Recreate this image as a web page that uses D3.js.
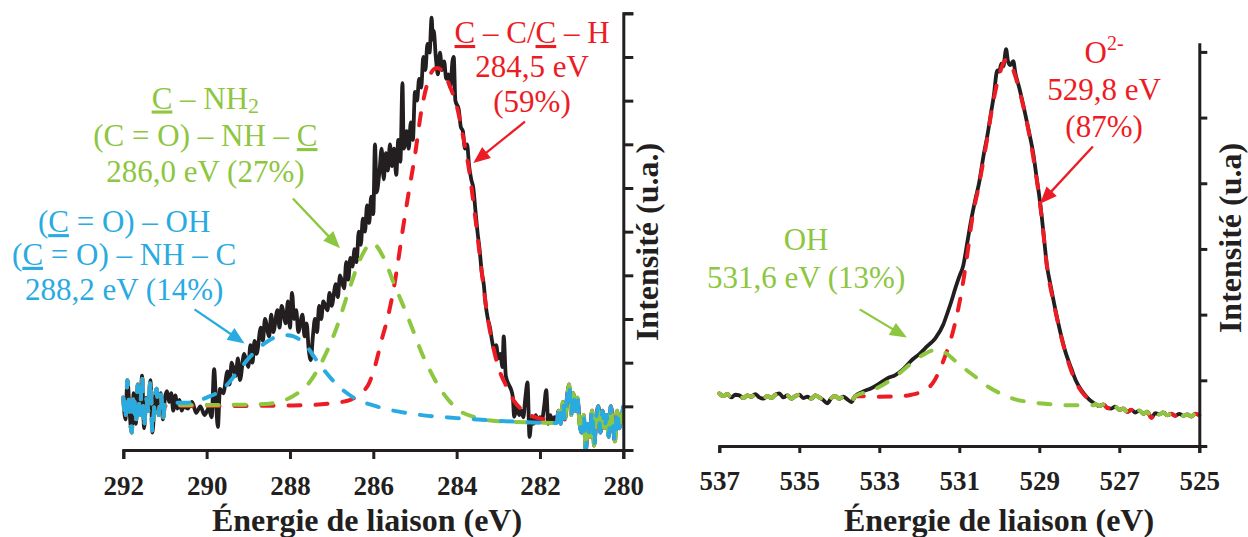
<!DOCTYPE html>
<html><head><meta charset="utf-8">
<script src="https://cdn.jsdelivr.net/npm/d3@7"></script>
<style>body{margin:0;background:#fff}svg{display:block}</style>
</head><body>
<svg id="chart" width="1248" height="537"></svg>
<script>
// ---------------- C1s (left panel) ----------------
const c1sTicks = [292, 290, 288, 286, 284, 282, 280];
const c1sYTicks = [0,1,2,3,4,5,6,7,8,9,10];
const c1sEnergy = [
292.00,291.95,291.90,291.85,291.80,291.75,291.70,291.65,291.60,291.55,291.50,291.45,291.40,291.35,291.30,291.25,291.20,291.15,291.10,291.05,291.00,
290.95,290.90,290.85,290.80,290.75,290.70,290.65,290.60,290.55,290.45,290.35,290.25,290.15,290.05,289.95,289.88,289.82,289.77,289.73,289.68,289.60,
289.50,289.45,289.40,289.30,289.25,289.20,289.10,289.00,288.95,288.90,288.85,288.80,288.70,288.65,288.60,288.50,288.45,288.40,288.30,288.25,288.20,
288.10,288.05,288.00,287.95,287.90,287.85,287.80,287.70,287.65,287.60,287.55,287.50,287.45,287.40,287.35,287.30,287.25,287.20,287.10,287.05,287.00,
286.90,286.85,286.80,286.70,286.65,286.60,286.55,286.50,286.45,286.40,286.35,286.30,286.25,286.20,286.15,286.10,286.05,286.00,285.96,285.92,285.85,
285.80,285.75,285.70,285.65,285.60,285.55,285.50,285.45,285.40,285.35,285.30,285.27,285.20,285.15,285.10,285.05,285.00,284.95,284.90,284.85,284.80,
284.75,284.70,284.65,284.60,284.57,284.55,284.50,284.45,284.40,284.35,284.30,284.25,284.20,284.15,284.10,284.07,284.03,283.95,283.90,283.85,283.80,
283.75,283.70,283.65,283.60,283.55,283.50,283.45,283.40,283.35,283.30,283.25,283.20,283.15,283.10,283.05,283.00,282.95,282.90,282.87,282.82,282.75,
282.70,282.65,282.62,282.55,282.50,282.45,282.40,282.35,282.30,282.25,282.20,282.15,282.10,282.05,282.00,281.95,281.90,281.85,281.80,281.75,281.70,
281.65,281.60,281.55,281.50,281.45,281.40,281.35,281.30,281.25,281.20,281.15,281.10,281.05,281.00,280.95,280.90,280.85,280.80,280.75,280.70,280.65,
280.60,280.55,280.50,280.45,280.40,280.35,280.30,280.25,280.20,280.15,280.10,280.05,280.00];
const c1sIntensity = [
1.20,0.70,1.60,0.90,0.40,1.30,0.60,1.50,0.80,1.70,0.50,1.20,0.90,1.60,0.40,1.10,1.40,0.80,1.30,0.70,1.20,
1.35,1.10,1.30,0.90,1.25,0.95,1.15,0.90,1.00,0.95,1.10,0.85,1.00,0.80,0.95,0.75,1.85,1.00,0.53,1.40,1.30,
1.80,1.50,2.00,1.70,2.10,1.60,2.20,1.90,2.40,2.00,2.50,2.20,2.80,2.50,3.00,2.60,3.10,2.70,3.20,2.80,3.30,
2.90,3.40,2.80,3.60,3.00,3.20,2.70,3.10,2.60,2.90,2.30,2.06,2.60,3.00,2.70,3.30,3.00,3.40,3.20,3.60,3.30,
3.80,3.50,4.00,3.70,4.30,3.90,4.40,4.20,4.60,4.30,5.00,4.70,5.30,5.00,5.60,5.20,5.80,5.40,7.00,5.90,6.40,
6.90,6.20,6.80,6.40,7.00,6.50,6.90,6.30,7.10,6.60,8.40,6.90,7.30,6.90,7.50,7.10,8.20,8.00,8.50,8.30,9.00,
8.70,9.30,9.10,9.90,9.40,9.60,9.00,8.60,9.10,8.70,8.90,8.50,8.60,8.30,8.90,9.00,8.00,7.80,7.40,7.30,6.90,
7.00,6.50,6.20,6.00,5.50,5.00,4.60,4.10,3.80,3.30,3.00,2.80,2.50,2.30,2.40,2.10,2.20,1.90,2.60,1.70,1.50,
1.40,1.20,0.76,1.00,0.80,0.90,0.75,1.20,1.55,0.30,0.70,0.60,0.80,0.65,0.75,0.70,1.00,1.37,0.60,0.80,0.65,
0.75,0.70,0.90,0.60,1.10,0.70,1.20,1.50,0.80,1.30,0.90,1.20,0.60,0.40,0.80,0.00,0.60,0.30,0.90,0.10,0.70,
1.00,0.40,0.90,0.50,0.80,0.30,1.00,0.60,0.20,0.90,0.50,0.70,1.00];

// fitted components (C1s)
const c1sFitEnergyCC = [291.0,290.0,289.0,288.0,287.5,287.0,286.55,286.3,286.1,285.95,285.8,285.65,285.5,285.4,285.3,285.15,285.0,284.85,284.7,284.55,284.47,284.3,284.15,283.99,283.85,283.7,283.55,283.45,283.35,283.25,283.12,283.0,282.8,282.62,282.4,282.2,281.9,281.6];
const c1sFitCC =       [1.01, 1.01, 1.01, 1.02, 1.03, 1.07, 1.15,  1.30, 1.53, 1.95,  2.52, 3.05,  3.75, 4.35, 5.00, 5.90,  6.75, 7.75,  8.40, 8.72,  8.75,  8.62, 8.30,  7.85,  7.20,  6.40, 5.30,  4.50,  3.70,  3.00,  2.35,  1.90, 1.45, 1.12,  0.90, 0.78, 0.70, 0.66];
const c1sFitEnergyCN = [291.0,290.0,289.0,288.5,288.1,287.85,287.59,287.25,286.9,286.56,286.3,286.03,285.75,285.5,285.28,285.05,284.85,284.6,284.42,284.2,284.0,283.56,283.0,282.2,281.6];
const c1sFitCN =       [1.03, 1.03, 1.04, 1.06, 1.15, 1.28,  1.48,  1.99,  2.75, 3.73,  4.40, 4.74,  4.40,  3.80, 3.30,  2.75,  2.25,  1.75, 1.44,  1.15, 0.95, 0.75,  0.66, 0.63, 0.62];
const c1sFitEnergyCO = [291.0,290.5,290.0,289.56,289.25,288.96,288.6,288.3,288.05,287.8,287.6,287.42,287.2,286.98,286.7,286.38,286.0,285.7,285.0,284.0,283.0,282.2,281.6];
const c1sFitCO =       [1.08, 1.08, 1.20, 1.44,  1.80,  2.13,  2.45, 2.60, 2.63,  2.55, 2.38, 2.13,  1.85, 1.60,  1.35, 1.15,  1.02, 0.94, 0.82, 0.73, 0.67, 0.63, 0.62];

// ---------------- O1s (right panel) ----------------
const o1sTicks = [537, 535, 533, 531, 529, 527, 525];
const o1sYTicks = [0,1,2,3,4,5,6];
const o1sEnergy = [
537.0,536.9,536.8,536.7,536.6,536.5,536.4,536.3,536.2,536.1,536.0,535.9,535.8,535.7,535.6,535.5,535.4,535.3,535.2,535.1,535.0,
534.9,534.8,534.7,534.6,534.5,534.4,534.3,534.2,534.1,534.0,533.9,533.8,533.7,533.6,533.4,533.2,533.0,532.8,532.6,532.4,532.2,
532.0,531.8,531.6,531.4,531.3,531.2,531.1,531.0,530.9,530.8,530.7,530.6,530.5,530.4,530.3,530.2,530.14,530.05,530.0,529.95,529.9,
529.83,529.78,529.72,529.65,529.6,529.5,529.43,529.35,529.25,529.15,529.07,529.0,528.94,528.88,528.81,528.72,528.63,528.5,528.36,528.2,528.09,
527.95,527.82,527.7,527.6,527.5,527.4,527.3,527.2,527.1,527.0,526.9,526.8,526.7,526.6,526.5,526.4,526.3,526.2,526.1,526.0,
525.9,525.8,525.7,525.6,525.5,525.4,525.3,525.2,525.1,525.0];
const o1sIntensity = [
0.80,0.76,0.79,0.74,0.78,0.77,0.73,0.77,0.75,0.79,0.74,0.72,0.76,0.73,0.78,0.80,0.74,0.77,0.72,0.76,0.78,
0.73,0.75,0.72,0.77,0.74,0.70,0.65,0.73,0.76,0.72,0.75,0.71,0.67,0.76,0.83,0.88,0.95,1.03,1.08,1.17,1.30,
1.40,1.52,1.64,1.85,2.02,2.20,2.40,2.58,2.75,3.10,3.45,3.75,4.02,4.40,4.72,5.10,5.32,5.72,5.70,5.82,5.78,
6.04,5.85,5.80,5.86,5.68,5.45,5.27,5.05,4.76,4.45,4.10,3.80,3.50,3.15,2.75,2.45,2.17,1.80,1.46,1.18,1.00,
0.85,0.75,0.68,0.64,0.61,0.63,0.58,0.57,0.60,0.55,0.57,0.52,0.55,0.51,0.54,0.49,0.52,0.43,0.50,0.48,
0.51,0.47,0.49,0.46,0.49,0.46,0.48,0.45,0.49,0.47];

const o1sFitEnergyO2 = [533.6,533.0,532.4,532.2,531.93,531.66,531.39,531.13,530.95,530.82,530.68,530.5,530.32,530.14,530.0,529.83,529.7,529.61,529.43,529.25,529.07,528.94,528.81,528.63,528.36,528.09,527.82,527.6];
const o1sFitO2 =       [0.76, 0.75, 0.76, 0.78, 0.83,  0.96,  1.31,  1.81,  2.33,  2.83,  3.45,  4.00, 4.62,  5.28,  5.65, 5.88,  5.80, 5.65,  5.25,  4.74,  4.08,  3.48,  2.74,  2.15,  1.45,  0.98,  0.74,  0.64];
const o1sFitEnergyOH = [533.6,533.2,532.73,532.45,532.2,531.84,531.55,531.3,531.13,530.85,530.59,530.3,529.97,529.6,529.25,528.8,528.36,527.64];
const o1sFitOH =       [0.76, 0.84, 1.00,  1.13,  1.26, 1.41,  1.47,  1.40, 1.31,  1.17,  1.05,  0.91, 0.80,  0.71, 0.67,  0.64, 0.62,  0.62];

// ---------------- styling ----------------
const FONT = "'Liberation Serif','Times New Roman',serif";
const INK = "#231f20", RED = "#ed1c24", GREEN = "#8dc63f", BLUE = "#29abe2";

const svg = d3.select("#chart");

function addText(g, x, y, segs, color) {
  const t = g.append("text").attr("x", x).attr("y", y)
    .attr("text-anchor", "middle").attr("fill", color)
    .attr("font-family", FONT).attr("font-size", 31);
  segs.forEach(s => {
    const ts = t.append("tspan").text(s.t);
    if (s.u) ts.style("text-decoration", "underline");
    if (s.sub) ts.attr("dy", 4).attr("font-size", 22);
    if (s.sup) ts.attr("dy", -13).attr("font-size", 20);
  });
}

function addArrow(g, x1, y1, x2, y2, color) {
  const dx = x2 - x1, dy = y2 - y1, L = Math.hypot(dx, dy);
  const ux = dx / L, uy = dy / L, px = -uy, py = ux;
  const hl = 17, hw = 7;
  g.append("line").attr("x1", x1).attr("y1", y1)
    .attr("x2", x2 - ux * hl * 0.8).attr("y2", y2 - uy * hl * 0.8)
    .attr("stroke", color).attr("stroke-width", 2.3);
  const bx = x2 - ux * hl, by = y2 - uy * hl;
  g.append("path")
    .attr("d", `M${x2},${y2}L${bx + px * hw},${by + py * hw}L${bx - px * hw},${by - py * hw}Z`)
    .attr("fill", color);
}

function panel(cfg) {
  const x = d3.scaleLinear().domain(cfg.xDomain).range(cfg.xRange);
  const y = d3.scaleLinear().domain(cfg.yDomain).range(cfg.yRange);
  const g = svg.append("g");

  const line = d3.line().x(d => x(d[0])).y(d => y(d[1])).curve(d3.curveMonotoneX);
  const data = d3.zip(cfg.energy, cfg.intensity);

  g.append("path").attr("d", line(data)).attr("fill", "none")
    .attr("stroke", INK).attr("stroke-width", 3.8).attr("stroke-linejoin", "round");

  cfg.fits.forEach(f => {
    const fit = d3.zip(f.e, f.v);
    const hi = f.e[0], lo = f.e[f.e.length - 1];
    const pts = data.filter(d => d[0] > hi + 1e-9)
      .concat(fit)
      .concat(data.filter(d => d[0] < lo - 1e-9));
    g.append("path").attr("d", line(pts)).attr("fill", "none")
      .attr("stroke", f.color).attr("stroke-width", 4)
      .attr("stroke-dasharray", "12,15").attr("stroke-linecap", "round");
  });

  // x axis
  const xa = g.append("g").attr("transform", `translate(0,${cfg.yRange[0]})`)
    .call(d3.axisBottom(x).tickValues(cfg.xTicks).tickFormat(d3.format("d"))
      .tickSize(cfg.xTickLen).tickSizeOuter(cfg.xTickLen).tickPadding(cfg.xPad));
  xa.attr("font-family", FONT).attr("font-size", 27).attr("font-weight", "bold");
  xa.selectAll("path,line").attr("stroke", INK).attr("stroke-width", 3);
  xa.selectAll("text").attr("fill", INK);

  // y axis (right side, no labels)
  const ya = g.append("g").attr("transform", `translate(${cfg.xRange[1]},0)`)
    .call(d3.axisRight(y).tickValues(cfg.yTicks).tickFormat("")
      .tickSize(cfg.yTickLen).tickSizeOuter(cfg.yOuter));
  ya.selectAll("path,line").attr("stroke", INK).attr("stroke-width", 3);

  // titles
  g.append("text").attr("x", cfg.xTitleX).attr("y", 531).attr("text-anchor", "middle")
    .attr("font-family", FONT).attr("font-size", 32).attr("font-weight", "bold")
    .attr("fill", INK).text("Énergie de liaison (eV)");
  g.append("text").attr("transform", `translate(${cfg.yTitleX},${cfg.yTitleY}) rotate(-90)`)
    .attr("text-anchor", "middle").attr("font-family", FONT).attr("font-size", 32)
    .attr("font-weight", "bold").attr("fill", INK).text(cfg.yTitle);

  cfg.labels.forEach(lb => {
    lb.lines.forEach((segs, i) => addText(g, x(lb.e), y(lb.v[i]), segs, lb.color));
  });
  cfg.arrows.forEach(a => addArrow(g, x(a.from[0]), y(a.from[1]), x(a.to[0]), y(a.to[1]), a.color));
}

panel({
  xDomain: [292, 280], xRange: [123.3, 623.3],
  yDomain: [0, 10], yRange: [450, 13.3],
  xTicks: c1sTicks, yTicks: c1sYTicks,
  xTickLen: 9, xPad: 16.8, yTickLen: 10, yOuter: 10,
  energy: c1sEnergy, intensity: c1sIntensity,
  fits: [
    {e: c1sFitEnergyCC, v: c1sFitCC, color: RED},
    {e: c1sFitEnergyCN, v: c1sFitCN, color: GREEN},
    {e: c1sFitEnergyCO, v: c1sFitCO, color: BLUE}
  ],
  xTitleX: 367, yTitleX: 658, yTitleY: 242, yTitle: "Intensité (u.a.)",
  labels: [
    {e: 282.19, v: [9.32, 8.54, 7.74], color: RED, lines: [
      [{t: "C", u: 1}, {t: " – C/"}, {t: "C", u: 1}, {t: " – H"}],
      [{t: "284,5 eV"}],
      [{t: "(59%)"}]]},
    {e: 290.03, v: [7.82, 6.96, 6.14], color: GREEN, lines: [
      [{t: "C", u: 1}, {t: " – NH"}, {t: "2", sub: 1}],
      [{t: "(C = O) – NH – "}, {t: "C", u: 1}],
      [{t: "286,0 eV (27%)"}]]},
    {e: 291.98, v: [4.99, 4.24, 3.43], color: BLUE, lines: [
      [{t: "("}, {t: "C", u: 1}, {t: " = O) – OH"}],
      [{t: "("}, {t: "C", u: 1}, {t: " = O) – NH – C"}],
      [{t: "288,2 eV (14%)"}]]}
  ],
  arrows: [
    {from: [282.36, 7.52], to: [283.60, 6.57], color: RED},
    {from: [287.93, 5.76], to: [286.80, 4.62], color: GREEN},
    {from: [290.29, 3.22], to: [289.09, 2.44], color: BLUE}
  ]
});

panel({
  xDomain: [537, 525], xRange: [719.3, 1199.3],
  yDomain: [0, 6.14], yRange: [446, 42.7],
  xTicks: o1sTicks, yTicks: o1sYTicks,
  xTickLen: 7, xPad: 17.8, yTickLen: 8, yOuter: 0,
  energy: o1sEnergy, intensity: o1sIntensity,
  fits: [
    {e: o1sFitEnergyO2, v: o1sFitO2, color: RED},
    {e: o1sFitEnergyOH, v: o1sFitOH, color: GREEN}
  ],
  xTitleX: 999, yTitleX: 1241, yTitleY: 238, yTitle: "Intensité (u.a)",
  labels: [
    {e: 527.38, v: [5.83, 5.27, 4.70], color: RED, lines: [
      [{t: "O"}, {t: "2-", sup: 1}],
      [{t: "529,8 eV"}],
      [{t: "(87%)"}]]},
    {e: 534.83, v: [2.98, 2.40], color: GREEN, lines: [
      [{t: "OH"}],
      [{t: "531,6 eV (13%)"}]]}
  ],
  arrows: [
    {from: [527.66, 4.56], to: [528.98, 3.69], color: RED},
    {from: [533.49, 2.08], to: [532.31, 1.65], color: GREEN}
  ]
});
</script>
</body></html>
